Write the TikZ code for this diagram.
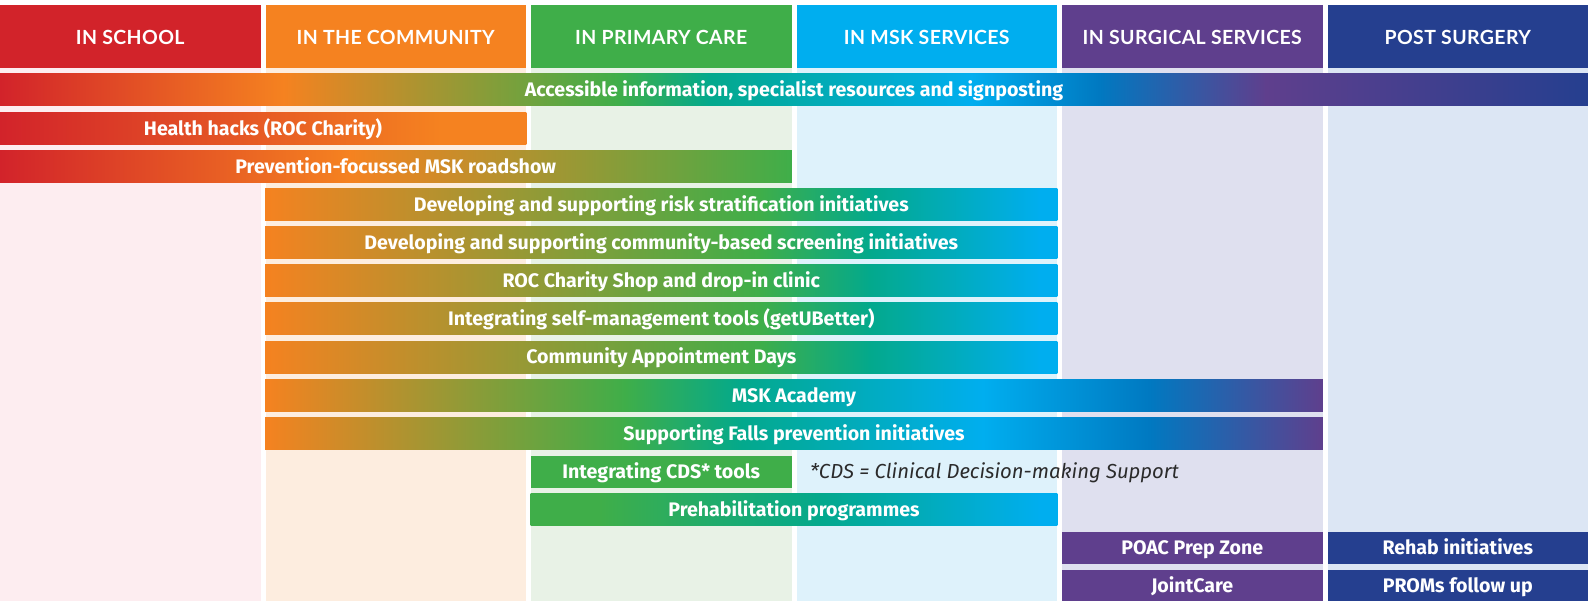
\documentclass[tikz,border=0pt]{standalone}
\usepackage{fontspec}
\setmainfont{Lato}
\newfontfamily\barfont{Fira Sans}
\newfontfamily\hdrfont{Lato}[LetterSpace=2]
\definecolor{cRed}{HTML}{D2232A}
\definecolor{cOrange}{HTML}{F58220}
\definecolor{cGreen}{HTML}{3FAE49}
\definecolor{cTeal}{HTML}{03A98C}
\definecolor{cCyan}{HTML}{00AEEF}
\definecolor{cBlue}{HTML}{0079C1}
\definecolor{cPurple}{HTML}{5F3F8D}
\definecolor{cNavy}{HTML}{253F8F}
\definecolor{bRed}{HTML}{FDEDF0}
\definecolor{bOrange}{HTML}{FDEDDF}
\definecolor{bGreen}{HTML}{E8F2E6}
\definecolor{bCyan}{HTML}{DEF2FB}
\definecolor{bPurple}{HTML}{DFE0EF}
\definecolor{bNavy}{HTML}{DCE6F4}
\definecolor{noteGrey}{HTML}{2B2B2B}
% gradient segment: row, x0, x1, colour A, colour B
\newcommand\seg[5]{\shade[left color=#4,right color=#5] ({#2-0.4},{74+38.15*#1}) rectangle ({#3+0.4},{106+38.15*#1});}
\newcommand\solidbar[4]{\fill[#4] (#2,{74+38.15*#1}) rectangle (#3,{min(106+38.15*#1,601)});}
\begin{document}
\begin{tikzpicture}[x=1pt,y=-1pt,
  hdr/.style={text=white,font=\hdrfont\bfseries\fontsize{19.5}{21}\selectfont,inner sep=0pt,anchor=base},
  bartxt/.style={text=white,font=\barfont\bfseries\fontsize{19.6}{21}\selectfont,inner sep=0pt,anchor=base},
  notetxt/.style={text=noteGrey,font=\barfont\itshape\fontsize{20.3}{22}\selectfont,inner sep=0pt,anchor=base west}]
\useasboundingbox (0,0) rectangle (1588,601);
\fill[white] (0,0) rectangle (1588,601);
% column backgrounds
\fill[bRed]    (0,68)      rectangle (260.5,601);
\fill[bOrange] (265.5,68)  rectangle (526,601);
\fill[bGreen]  (531,68)    rectangle (791.5,601);
\fill[bCyan]   (796.5,68)  rectangle (1057,601);
\fill[bPurple] (1062,68)   rectangle (1322.5,601);
\fill[bNavy]   (1327.5,68) rectangle (1588,601);
% headers
\fill[cRed]    (0,5)      rectangle (260.5,68);
\fill[cOrange] (265.5,5)  rectangle (526,68);
\fill[cGreen]  (531,5)    rectangle (791.5,68);
\fill[cCyan]   (796.5,5)  rectangle (1057,68);
\fill[cPurple] (1062,5)   rectangle (1322.5,68);
\fill[cNavy]   (1327.5,5) rectangle (1588,68);
\node[hdr] (h1) at (130.25,44.5) {IN SCHOOL};
\node[hdr] (h2) at (395.75,44.5) {IN THE COMMUNITY};
\node[hdr] (h3) at (661.25,44.5) {IN PRIMARY CARE};
\node[hdr] (h4) at (926.75,44.5) {IN MSK SERVICES};
\node[hdr] (h5) at (1192.25,44.5) {IN SURGICAL SERVICES};
\node[hdr] (h6) at (1457.75,44.5) {POST SURGERY};
% row 0: accessible information
\seg{0}{0}{284}{cRed}{cOrange}
\seg{0}{284}{618}{cOrange}{cGreen}
\seg{0}{618}{709}{cGreen}{cTeal}
\seg{0}{709}{972}{cTeal}{cCyan}
\seg{0}{972}{1099}{cCyan}{cBlue}
\seg{0}{1099}{1266}{cBlue}{cPurple}
\seg{0}{1266}{1588}{cPurple}{cNavy}
\node[bartxt] (b0) at (794,{96.9+38.15*0}) {Accessible information, specialist resources and signposting};
% row 1: health hacks
\seg{1}{0}{440}{cRed}{cOrange}
\seg{1}{440}{526}{cOrange}{cOrange}
\node[bartxt] (b1) at (263,{96.9+38.15*1}) {Health hacks (ROC Charity)};
% row 2: roadshow
\seg{2}{0}{350}{cRed}{cOrange}
\seg{2}{350}{791.5}{cOrange}{cGreen}
\node[bartxt] (b2) at (395.75,{96.9+38.15*2}) {Prevention-focussed MSK roadshow};
% rows 3-7
\foreach \r in {3,...,7}{
  \seg{\r}{265.5}{760}{cOrange}{cGreen}
  \seg{\r}{760}{870}{cGreen}{cTeal}
  \seg{\r}{870}{1040}{cTeal}{cCyan}
  \seg{\r}{1040}{1057}{cCyan}{cCyan}
}
\node[bartxt] (b3) at (661.25,{96.9+38.15*3}) {Developing and supporting risk stratification initiatives};
\node[bartxt] (b4) at (661.25,{96.9+38.15*4}) {Developing and supporting community-based screening initiatives};
\node[bartxt] (b5) at (661.25,{96.9+38.15*5}) {ROC Charity Shop and drop-in clinic};
\node[bartxt] (b6) at (661.25,{96.9+38.15*6}) {Integrating self-management tools (getUBetter)};
\node[bartxt] (b7) at (661.25,{96.9+38.15*7}) {Community Appointment Days};
% rows 8-9
\foreach \r in {8,9}{
  \seg{\r}{265.5}{625}{cOrange}{cGreen}
  \seg{\r}{625}{742}{cGreen}{cTeal}
  \seg{\r}{742}{983}{cTeal}{cCyan}
  \seg{\r}{983}{1149}{cCyan}{cBlue}
  \seg{\r}{1149}{1322.5}{cBlue}{cPurple}
}
\node[bartxt] (b8) at (794,{96.9+38.15*8}) {MSK Academy};
\node[bartxt] (b9) at (794,{96.9+38.15*9}) {Supporting Falls prevention initiatives};
% row 10: CDS
\solidbar{10}{531}{791.5}{cGreen}
\node[bartxt] (b10) at (661.25,{96.9+38.15*10}) {Integrating CDS* tools};
\node[notetxt] (note) at (810,{96.9+38.15*10}) {*CDS = Clinical Decision-making Support};
% row 11: prehab
\seg{11}{531}{600}{cGreen}{cGreen}
\seg{11}{600}{820}{cGreen}{cTeal}
\seg{11}{820}{1040}{cTeal}{cCyan}
\seg{11}{1040}{1057}{cCyan}{cCyan}
\node[bartxt] (b11) at (794,{96.9+38.15*11}) {Prehabilitation programmes};
% rows 12-13
\solidbar{12}{1062}{1322.5}{cPurple}
\solidbar{13}{1062}{1322.5}{cPurple}
\solidbar{12}{1327.5}{1588}{cNavy}
\solidbar{13}{1327.5}{1588}{cNavy}
\node[bartxt] (b12) at (1192.25,{96.9+38.15*12}) {POAC Prep Zone};
\node[bartxt] (b13) at (1192.25,{96.9+38.15*13}) {JointCare};
\node[bartxt] (b14) at (1457.75,{96.9+38.15*12}) {Rehab initiatives};
\node[bartxt] (b15) at (1457.75,{96.9+38.15*13}) {PROMs follow up};
\end{tikzpicture}
\end{document}
